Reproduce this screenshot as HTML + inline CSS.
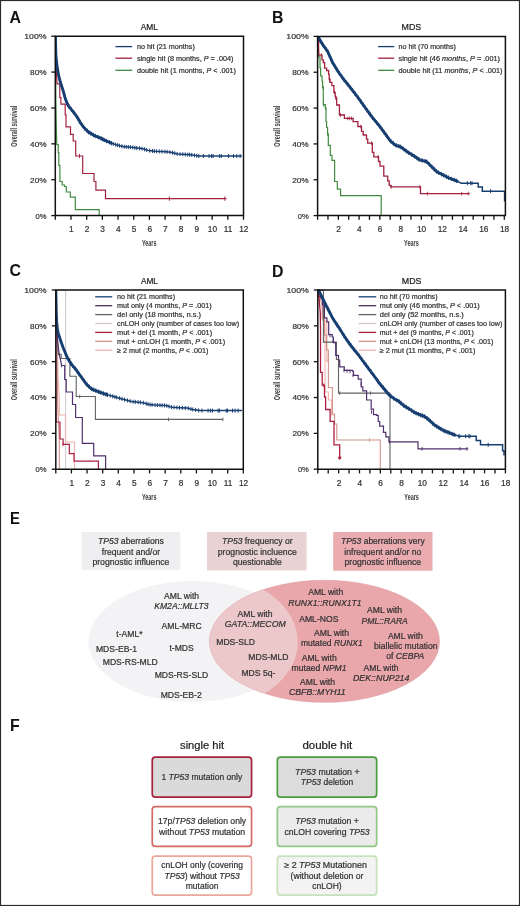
<!DOCTYPE html>
<html><head><meta charset="utf-8"><title>Figure</title>
<style>
html,body{margin:0;padding:0;background:#fff;}
body{width:520px;height:906px;overflow:hidden;}
svg{display:block;font-family:"Liberation Sans", sans-serif;will-change:transform;}
text{paint-order:stroke;stroke-width:0.22px;stroke-linejoin:round;}
</style></head>
<body>
<svg width="520" height="906" viewBox="0 0 520 906">
<rect width="520" height="906" fill="#fff"/>
<text x="9.4" y="23" font-size="15.9" font-weight="bold" fill="#111" >A</text>
<text x="149.4" y="30.4" font-size="8.8" text-anchor="middle" fill="#222" stroke="#222" textLength="17.2" lengthAdjust="spacingAndGlyphs" >AML</text>
<clipPath id="ca"><rect x="55.3" y="30" width="194.7" height="186.5"/></clipPath><g clip-path="url(#ca)">
<path d="M55.6 36.2 L55.8 100 L56.4 130 L56.8 144.6 L58.2 144.6 L58.2 152.7 L58.8 152.7 L58.8 165.4 L59.9 165.4 L59.9 181.5 L62.2 181.5 L62.2 185 L64.5 185 L64.5 186.5 L66.3 186.5 L66.3 192 L70.3 192 L70.3 197.1 L75.3 197.1 L75.3 209.6 L99.2 209.6 L99.2 215.6" fill="none" stroke="#3f8c40" stroke-width="1.2" stroke-linejoin="miter" stroke-linecap="butt" />
<path d="M55.3 36.2 L55.5 60 L56.3 71.5 L57.1 83.8 L59.8 83.8 L59.8 97.7 L60.9 97.7 L60.9 104.2 L65.2 104.2 L65.2 114.8 L66 114.8 L66 126.9 L70.5 126.9 L70.5 134.3 L73.2 134.3 L73.2 141 L75.7 141 L75.7 156 L82.7 156 L82.7 173.5 L94 173.5 L94 181.5 L95.9 181.5 L95.9 190.2 L105.5 190.2 L105.5 198.6 L226.5 198.6" fill="none" stroke="#a1213f" stroke-width="1.2" stroke-linejoin="miter" stroke-linecap="butt" />
<line x1="79.5" y1="153.8" x2="79.5" y2="158.2" stroke="#a1213f" stroke-width="0.9"/>
<line x1="169.4" y1="196.4" x2="169.4" y2="200.8" stroke="#a1213f" stroke-width="0.9"/>
<line x1="224.8" y1="196.4" x2="224.8" y2="200.8" stroke="#a1213f" stroke-width="0.9"/>
<path d="M55.4 36.2 L55.6 45 L55.9 55 L56.4 61 L57.3 67.7 L58.6 75.4 L60.2 81.5 L61.7 86.2 L63.2 90.8 L64.8 96.9 L66.3 101.5 L68.6 106.2 L72.3 110.6 L75.2 114.3 L78 118.5 L80.8 123.5 L84.6 128.3 L88.5 132.1 L94.2 135.5 L100 137.9 L105.8 140.8 L111.5 143.2 L117.3 145.1 L123.1 146.6 L131.5 147.3 L143.1 148.8 L148.8 150.6 L154.6 151.2 L166.2 151.7 L170.8 152.3 L177.7 154 L190.8 154.8 L198.9 156.1 L241.9 156.1" fill="none" stroke="#183f72" stroke-width="1.5" stroke-linejoin="miter" stroke-linecap="butt" />
<path d="M55.4 36.2 L55.6 45 L55.9 55 L56.4 61 L57.3 67.7 L58.6 75.4 L60.2 81.5 L61.7 86.2 L63.2 90.8 L64.8 96.9 L66.3 101.5 L68.6 106.2 L72.3 110.6 L75.2 114.3 L78 118.5 L80.8 123.5 L84.6 128.3 L88.5 132.1 L94.2 135.5 L100 137.9 L105.8 140.8 L111.5 143.2 L112 143.36" fill="none" stroke="#183f72" stroke-width="2.9" stroke-linejoin="miter" stroke-linecap="butt" stroke-linejoin="round"/>
<line x1="57.9" y1="69.05" x2="57.9" y2="73.45" stroke="#183f72" stroke-width="1.0"/>
<line x1="59.6" y1="77.02" x2="59.6" y2="81.42" stroke="#183f72" stroke-width="1.0"/>
<line x1="62.37" y1="86.06" x2="62.37" y2="90.46" stroke="#183f72" stroke-width="1.0"/>
<line x1="65.02" y1="95.37" x2="65.02" y2="99.77" stroke="#183f72" stroke-width="1.0"/>
<line x1="66.9" y1="100.53" x2="66.9" y2="104.93" stroke="#183f72" stroke-width="1.0"/>
<line x1="69.14" y1="104.65" x2="69.14" y2="109.05" stroke="#183f72" stroke-width="1.0"/>
<line x1="71.32" y1="107.23" x2="71.32" y2="111.63" stroke="#183f72" stroke-width="1.0"/>
<line x1="73.8" y1="110.31" x2="73.8" y2="114.71" stroke="#183f72" stroke-width="1.0"/>
<line x1="76.48" y1="114.02" x2="76.48" y2="118.42" stroke="#183f72" stroke-width="1.0"/>
<line x1="78.12" y1="116.51" x2="78.12" y2="120.91" stroke="#183f72" stroke-width="1.0"/>
<line x1="79.66" y1="119.27" x2="79.66" y2="123.67" stroke="#183f72" stroke-width="1.0"/>
<line x1="82.42" y1="123.34" x2="82.42" y2="127.74" stroke="#183f72" stroke-width="1.0"/>
<line x1="84.56" y1="126.06" x2="84.56" y2="130.46" stroke="#183f72" stroke-width="1.0"/>
<line x1="87.21" y1="128.64" x2="87.21" y2="133.04" stroke="#183f72" stroke-width="1.0"/>
<line x1="88.71" y1="130.03" x2="88.71" y2="134.43" stroke="#183f72" stroke-width="1.0"/>
<line x1="90.88" y1="131.32" x2="90.88" y2="135.72" stroke="#183f72" stroke-width="1.0"/>
<line x1="93.46" y1="132.86" x2="93.46" y2="137.26" stroke="#183f72" stroke-width="1.0"/>
<line x1="95.31" y1="133.76" x2="95.31" y2="138.16" stroke="#183f72" stroke-width="1.0"/>
<line x1="98.22" y1="134.96" x2="98.22" y2="139.36" stroke="#183f72" stroke-width="1.0"/>
<line x1="101.08" y1="136.24" x2="101.08" y2="140.64" stroke="#183f72" stroke-width="1.0"/>
<line x1="102.62" y1="137.01" x2="102.62" y2="141.41" stroke="#183f72" stroke-width="1.0"/>
<line x1="104.16" y1="137.78" x2="104.16" y2="142.18" stroke="#183f72" stroke-width="1.0"/>
<line x1="106.47" y1="138.88" x2="106.47" y2="143.28" stroke="#183f72" stroke-width="1.0"/>
<line x1="109.38" y1="140.11" x2="109.38" y2="144.51" stroke="#183f72" stroke-width="1.0"/>
<line x1="111.45" y1="140.98" x2="111.45" y2="145.38" stroke="#183f72" stroke-width="1.0"/>
<line x1="113.28" y1="141.78" x2="113.28" y2="145.78" stroke="#183f72" stroke-width="1.0"/>
<line x1="115.58" y1="142.54" x2="115.58" y2="146.54" stroke="#183f72" stroke-width="1.0"/>
<line x1="117.42" y1="143.13" x2="117.42" y2="147.13" stroke="#183f72" stroke-width="1.0"/>
<line x1="119.48" y1="143.66" x2="119.48" y2="147.66" stroke="#183f72" stroke-width="1.0"/>
<line x1="121.81" y1="144.27" x2="121.81" y2="148.27" stroke="#183f72" stroke-width="1.0"/>
<line x1="124.2" y1="144.69" x2="124.2" y2="148.69" stroke="#183f72" stroke-width="1.0"/>
<line x1="126.28" y1="144.87" x2="126.28" y2="148.87" stroke="#183f72" stroke-width="1.0"/>
<line x1="128.36" y1="145.04" x2="128.36" y2="149.04" stroke="#183f72" stroke-width="1.0"/>
<line x1="130.42" y1="145.21" x2="130.42" y2="149.21" stroke="#183f72" stroke-width="1.0"/>
<line x1="132.78" y1="145.46" x2="132.78" y2="149.46" stroke="#183f72" stroke-width="1.0"/>
<line x1="134.92" y1="145.74" x2="134.92" y2="149.74" stroke="#183f72" stroke-width="1.0"/>
<line x1="136.75" y1="145.98" x2="136.75" y2="149.98" stroke="#183f72" stroke-width="1.0"/>
<line x1="139.55" y1="146.34" x2="139.55" y2="150.34" stroke="#183f72" stroke-width="1.0"/>
<line x1="142.02" y1="146.66" x2="142.02" y2="150.66" stroke="#183f72" stroke-width="1.0"/>
<line x1="144.59" y1="147.27" x2="144.59" y2="151.27" stroke="#183f72" stroke-width="1.0"/>
<line x1="146.62" y1="147.91" x2="146.62" y2="151.91" stroke="#183f72" stroke-width="1.0"/>
<line x1="149.61" y1="148.68" x2="149.61" y2="152.68" stroke="#183f72" stroke-width="1.0"/>
<line x1="152.44" y1="148.98" x2="152.44" y2="152.98" stroke="#183f72" stroke-width="1.0"/>
<line x1="154.38" y1="149.18" x2="154.38" y2="153.18" stroke="#183f72" stroke-width="1.0"/>
<line x1="156.58" y1="149.29" x2="156.58" y2="153.29" stroke="#183f72" stroke-width="1.0"/>
<line x1="159.25" y1="149.4" x2="159.25" y2="153.4" stroke="#183f72" stroke-width="1.0"/>
<line x1="161.9" y1="149.51" x2="161.9" y2="153.51" stroke="#183f72" stroke-width="1.0"/>
<line x1="164.83" y1="149.64" x2="164.83" y2="153.64" stroke="#183f72" stroke-width="1.0"/>
<line x1="167.13" y1="149.82" x2="167.13" y2="153.82" stroke="#183f72" stroke-width="1.0"/>
<line x1="169.93" y1="150.19" x2="169.93" y2="154.19" stroke="#183f72" stroke-width="1.0"/>
<line x1="172.53" y1="150.73" x2="172.53" y2="154.73" stroke="#183f72" stroke-width="1.0"/>
<line x1="174.7" y1="151.26" x2="174.7" y2="155.26" stroke="#183f72" stroke-width="1.0"/>
<line x1="177.2" y1="151.88" x2="177.2" y2="155.88" stroke="#183f72" stroke-width="1.0"/>
<line x1="180.06" y1="152.14" x2="180.06" y2="156.14" stroke="#183f72" stroke-width="1.0"/>
<line x1="182.88" y1="152.32" x2="182.88" y2="156.32" stroke="#183f72" stroke-width="1.0"/>
<line x1="185.28" y1="152.46" x2="185.28" y2="156.46" stroke="#183f72" stroke-width="1.0"/>
<line x1="187.79" y1="152.62" x2="187.79" y2="156.62" stroke="#183f72" stroke-width="1.0"/>
<line x1="189.63" y1="152.73" x2="189.63" y2="156.73" stroke="#183f72" stroke-width="1.0"/>
<line x1="191.72" y1="152.95" x2="191.72" y2="156.95" stroke="#183f72" stroke-width="1.0"/>
<line x1="194.48" y1="153.39" x2="194.48" y2="157.39" stroke="#183f72" stroke-width="1.0"/>
<line x1="196.78" y1="153.76" x2="196.78" y2="157.76" stroke="#183f72" stroke-width="1.0"/>
<line x1="198.78" y1="154.08" x2="198.78" y2="158.08" stroke="#183f72" stroke-width="1.0"/>
<line x1="203.3" y1="154.1" x2="203.3" y2="158.1" stroke="#183f72" stroke-width="1.0"/>
<line x1="209" y1="154.1" x2="209" y2="158.1" stroke="#183f72" stroke-width="1.0"/>
<line x1="211.5" y1="154.1" x2="211.5" y2="158.1" stroke="#183f72" stroke-width="1.0"/>
<line x1="213.1" y1="154.1" x2="213.1" y2="158.1" stroke="#183f72" stroke-width="1.0"/>
<line x1="219.6" y1="154.1" x2="219.6" y2="158.1" stroke="#183f72" stroke-width="1.0"/>
<line x1="221.3" y1="154.1" x2="221.3" y2="158.1" stroke="#183f72" stroke-width="1.0"/>
<line x1="228.6" y1="154.1" x2="228.6" y2="158.1" stroke="#183f72" stroke-width="1.0"/>
<line x1="233.5" y1="154.1" x2="233.5" y2="158.1" stroke="#183f72" stroke-width="1.0"/>
<line x1="236.8" y1="154.1" x2="236.8" y2="158.1" stroke="#183f72" stroke-width="1.0"/>
<line x1="240.1" y1="154.1" x2="240.1" y2="158.1" stroke="#183f72" stroke-width="1.0"/>
</g>
<path d="M55.3 215.6 L55.3 36.2 L243.5 36.2 L243.5 215.6 Z" fill="none" stroke="#111" stroke-width="1.5"/>
<line x1="51.3" y1="36.2" x2="55.3" y2="36.2" stroke="#111" stroke-width="1.3"/>
<text x="46.6" y="39.1" font-size="8.1" text-anchor="end" fill="#333" stroke="#333" textLength="22.4" lengthAdjust="spacingAndGlyphs" >100%</text>
<line x1="51.3" y1="72.08" x2="55.3" y2="72.08" stroke="#111" stroke-width="1.3"/>
<text x="46.6" y="74.98" font-size="8.1" text-anchor="end" fill="#333" stroke="#333" textLength="16.5" lengthAdjust="spacingAndGlyphs" >80%</text>
<line x1="51.3" y1="107.96" x2="55.3" y2="107.96" stroke="#111" stroke-width="1.3"/>
<text x="46.6" y="110.86" font-size="8.1" text-anchor="end" fill="#333" stroke="#333" textLength="16.5" lengthAdjust="spacingAndGlyphs" >60%</text>
<line x1="51.3" y1="143.84" x2="55.3" y2="143.84" stroke="#111" stroke-width="1.3"/>
<text x="46.6" y="146.74" font-size="8.1" text-anchor="end" fill="#333" stroke="#333" textLength="16.5" lengthAdjust="spacingAndGlyphs" >40%</text>
<line x1="51.3" y1="179.72" x2="55.3" y2="179.72" stroke="#111" stroke-width="1.3"/>
<text x="46.6" y="182.62" font-size="8.1" text-anchor="end" fill="#333" stroke="#333" textLength="16.5" lengthAdjust="spacingAndGlyphs" >20%</text>
<line x1="51.3" y1="215.6" x2="55.3" y2="215.6" stroke="#111" stroke-width="1.3"/>
<text x="46.6" y="218.5" font-size="8.1" text-anchor="end" fill="#333" stroke="#333" textLength="11" lengthAdjust="spacingAndGlyphs" >0%</text>
<line x1="55.3" y1="215.6" x2="55.3" y2="219.8" stroke="#111" stroke-width="1.3"/>
<line x1="70.98" y1="215.6" x2="70.98" y2="219.8" stroke="#111" stroke-width="1.3"/>
<text x="71.28" y="231.8" font-size="8.3" text-anchor="middle" fill="#333" stroke="#333" >1</text>
<line x1="86.67" y1="215.6" x2="86.67" y2="219.8" stroke="#111" stroke-width="1.3"/>
<text x="86.97" y="231.8" font-size="8.3" text-anchor="middle" fill="#333" stroke="#333" >2</text>
<line x1="102.35" y1="215.6" x2="102.35" y2="219.8" stroke="#111" stroke-width="1.3"/>
<text x="102.65" y="231.8" font-size="8.3" text-anchor="middle" fill="#333" stroke="#333" >3</text>
<line x1="118.03" y1="215.6" x2="118.03" y2="219.8" stroke="#111" stroke-width="1.3"/>
<text x="118.33" y="231.8" font-size="8.3" text-anchor="middle" fill="#333" stroke="#333" >4</text>
<line x1="133.72" y1="215.6" x2="133.72" y2="219.8" stroke="#111" stroke-width="1.3"/>
<text x="134.02" y="231.8" font-size="8.3" text-anchor="middle" fill="#333" stroke="#333" >5</text>
<line x1="149.4" y1="215.6" x2="149.4" y2="219.8" stroke="#111" stroke-width="1.3"/>
<text x="149.7" y="231.8" font-size="8.3" text-anchor="middle" fill="#333" stroke="#333" >6</text>
<line x1="165.08" y1="215.6" x2="165.08" y2="219.8" stroke="#111" stroke-width="1.3"/>
<text x="165.38" y="231.8" font-size="8.3" text-anchor="middle" fill="#333" stroke="#333" >7</text>
<line x1="180.77" y1="215.6" x2="180.77" y2="219.8" stroke="#111" stroke-width="1.3"/>
<text x="181.07" y="231.8" font-size="8.3" text-anchor="middle" fill="#333" stroke="#333" >8</text>
<line x1="196.45" y1="215.6" x2="196.45" y2="219.8" stroke="#111" stroke-width="1.3"/>
<text x="196.75" y="231.8" font-size="8.3" text-anchor="middle" fill="#333" stroke="#333" >9</text>
<line x1="212.13" y1="215.6" x2="212.13" y2="219.8" stroke="#111" stroke-width="1.3"/>
<text x="212.43" y="231.8" font-size="8.3" text-anchor="middle" fill="#333" stroke="#333" >10</text>
<line x1="227.82" y1="215.6" x2="227.82" y2="219.8" stroke="#111" stroke-width="1.3"/>
<text x="228.12" y="231.8" font-size="8.3" text-anchor="middle" fill="#333" stroke="#333" >11</text>
<line x1="243.5" y1="215.6" x2="243.5" y2="219.8" stroke="#111" stroke-width="1.3"/>
<text x="243.8" y="231.8" font-size="8.3" text-anchor="middle" fill="#333" stroke="#333" >12</text>
<text x="0" y="0" font-size="8.6" font-weight="bold" fill="#3a3a3a" text-anchor="middle" textLength="41" lengthAdjust="spacingAndGlyphs" transform="translate(17.4 126.2) rotate(-90)">Overall survival</text>
<text x="149.2" y="246.2" font-size="8.6" text-anchor="middle" font-weight="bold" fill="#3a3a3a" textLength="14.6" lengthAdjust="spacingAndGlyphs" >Years</text>
<line x1="115.4" y1="46.6" x2="132.2" y2="46.6" stroke="#183f72" stroke-width="1.3"/>
<text x="136.9" y="49" font-size="7.2" fill="#333" stroke="#333" textLength="57.9" lengthAdjust="spacingAndGlyphs" >no hit (21 months)</text>
<line x1="115.4" y1="58.2" x2="132.2" y2="58.2" stroke="#a1213f" stroke-width="1.3"/>
<text x="136.9" y="60.6" font-size="7.2" fill="#333" stroke="#333" textLength="96.5" lengthAdjust="spacingAndGlyphs" >single hit (8 months, <tspan font-style="italic">P</tspan> = .004)</text>
<line x1="115.4" y1="70.3" x2="132.2" y2="70.3" stroke="#3f8c40" stroke-width="1.3"/>
<text x="136.9" y="72.7" font-size="7.2" fill="#333" stroke="#333" textLength="99.1" lengthAdjust="spacingAndGlyphs" >double hit (1 months, <tspan font-style="italic">P</tspan> &lt; .001)</text>
<text x="271.9" y="23.1" font-size="15.9" font-weight="bold" fill="#111" >B</text>
<text x="411.4" y="30.4" font-size="8.8" text-anchor="middle" fill="#222" stroke="#222" textLength="19.7" lengthAdjust="spacingAndGlyphs" >MDS</text>
<clipPath id="cb"><rect x="317.6" y="30" width="194.39999999999998" height="186.5"/></clipPath><g clip-path="url(#cb)">
<path d="M317.8 36.5 L318.3 45 L318.6 55.9 L318.8 57.2 L320 57.2 L320 67.8 L320.6 67.8 L320.6 75.8 L322 75.8 L322 81 L322.6 81 L322.6 87.7 L323.3 87.7 L323.3 104.6 L325.3 104.6 L325.3 108.2 L326 108.2 L326 121.5 L326.6 121.5 L326.6 127.5 L327.6 127.5 L327.6 134.8 L328.3 134.8 L328.3 145.3 L330.3 145.3 L330.3 155.3 L332 155.3 L332 160.3 L334.6 160.3 L334.6 181.5 L337.3 181.5 L337.3 189.1 L340.6 189.1 L340.6 195.7 L381.2 195.7 L381.2 215.6" fill="none" stroke="#3f8c40" stroke-width="1.2" stroke-linejoin="miter" stroke-linecap="butt" />
<path d="M317.8 36.5 L318.6 40 L318.6 48 L318.8 55.2 L322 55.2 L322 59.9 L323.3 59.9 L323.3 62.5 L324.6 62.5 L324.6 68.2 L326.6 68.2 L326.6 70.5 L328.6 70.5 L328.6 74.4 L329.2 74.4 L329.2 79.7 L329.9 79.7 L329.9 82.4 L331.9 82.4 L331.9 85.7 L333.9 85.7 L333.9 92.3 L335.2 92.3 L335.2 96.3 L335.9 96.3 L335.9 98.2 L336.7 98.2 L336.7 105 L339.4 105 L339.4 115 L344.4 115 L344.4 118.4 L353.1 118.4 L353.1 121.7 L357.9 121.7 L357.9 126.5 L361.5 126.5 L361.5 131.3 L363.2 131.3 L363.2 135 L366.5 135 L366.5 139.2 L367.7 139.2 L367.7 143.1 L372.3 143.1 L372.3 152.3 L373.8 152.3 L373.8 156.9 L378.5 156.9 L378.5 161.5 L380 161.5 L380 166.2 L383.8 166.2 L383.8 176.2 L387.7 176.2 L387.7 180.8 L389.2 180.8 L389.2 185.4 L390.8 185.4 L390.8 186.9 L420.5 186.9 L420.5 193.6 L469.8 193.6" fill="none" stroke="#a1213f" stroke-width="1.3" stroke-linejoin="miter" stroke-linecap="butt" />
<line x1="321.3" y1="53.4" x2="321.3" y2="57" stroke="#a1213f" stroke-width="0.9"/>
<line x1="329.9" y1="77.9" x2="329.9" y2="81.5" stroke="#a1213f" stroke-width="0.9"/>
<line x1="334.5" y1="90.5" x2="334.5" y2="94.1" stroke="#a1213f" stroke-width="0.9"/>
<line x1="335.9" y1="96.4" x2="335.9" y2="100" stroke="#a1213f" stroke-width="0.9"/>
<line x1="340.5" y1="113.2" x2="340.5" y2="116.8" stroke="#a1213f" stroke-width="0.9"/>
<line x1="347.8" y1="116.6" x2="347.8" y2="120.2" stroke="#a1213f" stroke-width="0.9"/>
<line x1="349.7" y1="116.6" x2="349.7" y2="120.2" stroke="#a1213f" stroke-width="0.9"/>
<line x1="351.6" y1="116.6" x2="351.6" y2="120.2" stroke="#a1213f" stroke-width="0.9"/>
<line x1="360.8" y1="124.7" x2="360.8" y2="128.3" stroke="#a1213f" stroke-width="0.9"/>
<line x1="371.5" y1="141.3" x2="371.5" y2="144.9" stroke="#a1213f" stroke-width="0.9"/>
<line x1="378.1" y1="155.1" x2="378.1" y2="158.7" stroke="#a1213f" stroke-width="0.9"/>
<line x1="391.2" y1="185.1" x2="391.2" y2="188.7" stroke="#a1213f" stroke-width="0.9"/>
<line x1="419.9" y1="185.1" x2="419.9" y2="188.7" stroke="#a1213f" stroke-width="0.9"/>
<line x1="427.4" y1="191.8" x2="427.4" y2="195.4" stroke="#a1213f" stroke-width="0.9"/>
<line x1="461.7" y1="191.8" x2="461.7" y2="195.4" stroke="#a1213f" stroke-width="0.9"/>
<line x1="468.2" y1="191.8" x2="468.2" y2="195.4" stroke="#a1213f" stroke-width="0.9"/>
<line x1="323.3" y1="85.9" x2="323.3" y2="89.5" stroke="#3f8c40" stroke-width="0.9"/>
<line x1="323.6" y1="102.8" x2="323.6" y2="106.4" stroke="#3f8c40" stroke-width="0.9"/>
<line x1="325.6" y1="106.4" x2="325.6" y2="110" stroke="#3f8c40" stroke-width="0.9"/>
<line x1="328.3" y1="133" x2="328.3" y2="136.6" stroke="#3f8c40" stroke-width="0.9"/>
<path d="M317.8 36.5 L322.7 44.6 L327.5 51.2 L330.2 57.2 L332.7 62.8 L338.1 71.5 L343.5 79.2 L350.4 87.7 L358.1 97.7 L365.8 108.5 L371.9 116.9 L379.6 126.2 L385.8 134.6 L390.2 140.8 L395.4 145.1 L400.6 146.8 L407.5 152 L414.4 156.3 L419.6 159.8 L426.5 161.5 L431.7 166.7 L436.9 171.9 L442.1 174.5 L449 178 L456 180.6 L461.2 183.2 L478.2 183.2 L478.2 187 L482.3 187 L482.3 191.2 L504.6 191.2 L504.6 201.5" fill="none" stroke="#183f72" stroke-width="1.5" stroke-linejoin="miter" stroke-linecap="butt" />
<path d="M317.8 36.5 L322.7 44.6 L327.5 51.2 L330.2 57.2 L332.7 62.8 L338.1 71.5 L343.5 79.2 L350.4 87.7 L358.1 97.7 L365.8 108.5 L371.9 116.9 L379.6 126.2 L385.8 134.6 L390.2 140.8 L395.4 145.1 L400.6 146.8 L407.5 152 L414.4 156.3 L419.6 159.8 L426.5 161.5 L431.7 166.7 L436.9 171.9 L442.1 174.5 L449 178 L456 180.6 L458 181.6" fill="none" stroke="#183f72" stroke-width="2.9" stroke-linejoin="miter" stroke-linecap="butt" stroke-linejoin="round"/>
<line x1="320.3" y1="38.43" x2="320.3" y2="42.83" stroke="#183f72" stroke-width="1.0"/>
<line x1="323.23" y1="43.13" x2="323.23" y2="47.53" stroke="#183f72" stroke-width="1.0"/>
<line x1="326.16" y1="47.15" x2="326.16" y2="51.55" stroke="#183f72" stroke-width="1.0"/>
<line x1="327.74" y1="49.53" x2="327.74" y2="53.93" stroke="#183f72" stroke-width="1.0"/>
<line x1="329.37" y1="53.15" x2="329.37" y2="57.55" stroke="#183f72" stroke-width="1.0"/>
<line x1="332.12" y1="59.3" x2="332.12" y2="63.7" stroke="#183f72" stroke-width="1.0"/>
<line x1="334.73" y1="63.86" x2="334.73" y2="68.26" stroke="#183f72" stroke-width="1.0"/>
<line x1="337.23" y1="67.9" x2="337.23" y2="72.3" stroke="#183f72" stroke-width="1.0"/>
<line x1="339.19" y1="70.86" x2="339.19" y2="75.26" stroke="#183f72" stroke-width="1.0"/>
<line x1="341.6" y1="74.29" x2="341.6" y2="78.69" stroke="#183f72" stroke-width="1.0"/>
<line x1="344.01" y1="77.63" x2="344.01" y2="82.03" stroke="#183f72" stroke-width="1.0"/>
<line x1="346.38" y1="80.55" x2="346.38" y2="84.95" stroke="#183f72" stroke-width="1.0"/>
<line x1="348.12" y1="82.69" x2="348.12" y2="87.09" stroke="#183f72" stroke-width="1.0"/>
<line x1="350.27" y1="85.34" x2="350.27" y2="89.74" stroke="#183f72" stroke-width="1.0"/>
<line x1="352.36" y1="88.04" x2="352.36" y2="92.44" stroke="#183f72" stroke-width="1.0"/>
<line x1="354.94" y1="91.4" x2="354.94" y2="95.8" stroke="#183f72" stroke-width="1.0"/>
<line x1="357.93" y1="95.28" x2="357.93" y2="99.68" stroke="#183f72" stroke-width="1.0"/>
<line x1="360.86" y1="99.37" x2="360.86" y2="103.77" stroke="#183f72" stroke-width="1.0"/>
<line x1="363.17" y1="102.62" x2="363.17" y2="107.02" stroke="#183f72" stroke-width="1.0"/>
<line x1="365.34" y1="105.66" x2="365.34" y2="110.06" stroke="#183f72" stroke-width="1.0"/>
<line x1="367.24" y1="108.29" x2="367.24" y2="112.69" stroke="#183f72" stroke-width="1.0"/>
<line x1="368.8" y1="110.43" x2="368.8" y2="114.83" stroke="#183f72" stroke-width="1.0"/>
<line x1="370.34" y1="112.55" x2="370.34" y2="116.95" stroke="#183f72" stroke-width="1.0"/>
<line x1="372.54" y1="115.47" x2="372.54" y2="119.87" stroke="#183f72" stroke-width="1.0"/>
<line x1="374.51" y1="117.86" x2="374.51" y2="122.26" stroke="#183f72" stroke-width="1.0"/>
<line x1="376.58" y1="120.36" x2="376.58" y2="124.76" stroke="#183f72" stroke-width="1.0"/>
<line x1="379.42" y1="123.78" x2="379.42" y2="128.18" stroke="#183f72" stroke-width="1.0"/>
<line x1="381.71" y1="126.86" x2="381.71" y2="131.26" stroke="#183f72" stroke-width="1.0"/>
<line x1="384.05" y1="130.03" x2="384.05" y2="134.43" stroke="#183f72" stroke-width="1.0"/>
<line x1="385.9" y1="132.55" x2="385.9" y2="136.95" stroke="#183f72" stroke-width="1.0"/>
<line x1="387.44" y1="134.71" x2="387.44" y2="139.11" stroke="#183f72" stroke-width="1.0"/>
<line x1="389.43" y1="137.51" x2="389.43" y2="141.91" stroke="#183f72" stroke-width="1.0"/>
<line x1="391.13" y1="139.37" x2="391.13" y2="143.77" stroke="#183f72" stroke-width="1.0"/>
<line x1="393.4" y1="141.25" x2="393.4" y2="145.65" stroke="#183f72" stroke-width="1.0"/>
<line x1="396.4" y1="143.23" x2="396.4" y2="147.63" stroke="#183f72" stroke-width="1.0"/>
<line x1="398.91" y1="144.05" x2="398.91" y2="148.45" stroke="#183f72" stroke-width="1.0"/>
<line x1="400.68" y1="144.66" x2="400.68" y2="149.06" stroke="#183f72" stroke-width="1.0"/>
<line x1="403.52" y1="146.8" x2="403.52" y2="151.2" stroke="#183f72" stroke-width="1.0"/>
<line x1="406.22" y1="148.83" x2="406.22" y2="153.23" stroke="#183f72" stroke-width="1.0"/>
<line x1="408.82" y1="150.62" x2="408.82" y2="155.02" stroke="#183f72" stroke-width="1.0"/>
<line x1="411.68" y1="152.4" x2="411.68" y2="156.8" stroke="#183f72" stroke-width="1.0"/>
<line x1="414.32" y1="154.05" x2="414.32" y2="158.45" stroke="#183f72" stroke-width="1.0"/>
<line x1="417.01" y1="155.85" x2="417.01" y2="160.25" stroke="#183f72" stroke-width="1.0"/>
<line x1="419.04" y1="157.22" x2="419.04" y2="161.62" stroke="#183f72" stroke-width="1.0"/>
<line x1="422.01" y1="158.19" x2="422.01" y2="162.59" stroke="#183f72" stroke-width="1.0"/>
<line x1="424.95" y1="158.92" x2="424.95" y2="163.32" stroke="#183f72" stroke-width="1.0"/>
<line x1="426.69" y1="159.49" x2="426.69" y2="163.89" stroke="#183f72" stroke-width="1.0"/>
<line x1="429.32" y1="162.12" x2="429.32" y2="166.52" stroke="#183f72" stroke-width="1.0"/>
<line x1="431.9" y1="164.7" x2="431.9" y2="169.1" stroke="#183f72" stroke-width="1.0"/>
<line x1="434.09" y1="166.89" x2="434.09" y2="171.29" stroke="#183f72" stroke-width="1.0"/>
<line x1="436.39" y1="169.19" x2="436.39" y2="173.59" stroke="#183f72" stroke-width="1.0"/>
<line x1="438.62" y1="170.56" x2="438.62" y2="174.96" stroke="#183f72" stroke-width="1.0"/>
<line x1="441.51" y1="172" x2="441.51" y2="176.4" stroke="#183f72" stroke-width="1.0"/>
<line x1="443.76" y1="173.14" x2="443.76" y2="177.54" stroke="#183f72" stroke-width="1.0"/>
<line x1="446.51" y1="174.54" x2="446.51" y2="178.94" stroke="#183f72" stroke-width="1.0"/>
<line x1="448.54" y1="175.57" x2="448.54" y2="179.97" stroke="#183f72" stroke-width="1.0"/>
<line x1="451.36" y1="176.68" x2="451.36" y2="181.08" stroke="#183f72" stroke-width="1.0"/>
<line x1="454.21" y1="177.74" x2="454.21" y2="182.14" stroke="#183f72" stroke-width="1.0"/>
<line x1="456.4" y1="178.6" x2="456.4" y2="183" stroke="#183f72" stroke-width="1.0"/>
<line x1="467.4" y1="181.2" x2="467.4" y2="185.2" stroke="#183f72" stroke-width="1.0"/>
<line x1="470.7" y1="181.2" x2="470.7" y2="185.2" stroke="#183f72" stroke-width="1.0"/>
<line x1="472" y1="181.2" x2="472" y2="185.2" stroke="#183f72" stroke-width="1.0"/>
<line x1="490.6" y1="189.2" x2="490.6" y2="193.2" stroke="#183f72" stroke-width="1.0"/>
</g>
<path d="M317.6 215.6 L317.6 36.4 L505.4 36.4 L505.4 215.6 Z" fill="none" stroke="#111" stroke-width="1.5"/>
<line x1="313.6" y1="36.4" x2="317.6" y2="36.4" stroke="#111" stroke-width="1.3"/>
<text x="308.7" y="39.3" font-size="8.1" text-anchor="end" fill="#333" stroke="#333" textLength="22.4" lengthAdjust="spacingAndGlyphs" >100%</text>
<line x1="313.6" y1="72.24" x2="317.6" y2="72.24" stroke="#111" stroke-width="1.3"/>
<text x="308.7" y="75.14" font-size="8.1" text-anchor="end" fill="#333" stroke="#333" textLength="16.5" lengthAdjust="spacingAndGlyphs" >80%</text>
<line x1="313.6" y1="108.08" x2="317.6" y2="108.08" stroke="#111" stroke-width="1.3"/>
<text x="308.7" y="110.98" font-size="8.1" text-anchor="end" fill="#333" stroke="#333" textLength="16.5" lengthAdjust="spacingAndGlyphs" >60%</text>
<line x1="313.6" y1="143.92" x2="317.6" y2="143.92" stroke="#111" stroke-width="1.3"/>
<text x="308.7" y="146.82" font-size="8.1" text-anchor="end" fill="#333" stroke="#333" textLength="16.5" lengthAdjust="spacingAndGlyphs" >40%</text>
<line x1="313.6" y1="179.76" x2="317.6" y2="179.76" stroke="#111" stroke-width="1.3"/>
<text x="308.7" y="182.66" font-size="8.1" text-anchor="end" fill="#333" stroke="#333" textLength="16.5" lengthAdjust="spacingAndGlyphs" >20%</text>
<line x1="313.6" y1="215.6" x2="317.6" y2="215.6" stroke="#111" stroke-width="1.3"/>
<text x="308.7" y="218.5" font-size="8.1" text-anchor="end" fill="#333" stroke="#333" textLength="11" lengthAdjust="spacingAndGlyphs" >0%</text>
<line x1="317.6" y1="215.6" x2="317.6" y2="219.8" stroke="#111" stroke-width="1.3"/>
<line x1="327.97" y1="215.6" x2="327.97" y2="219.8" stroke="#111" stroke-width="1.3"/>
<line x1="338.34" y1="215.6" x2="338.34" y2="219.8" stroke="#111" stroke-width="1.3"/>
<text x="338.64" y="231.8" font-size="8.3" text-anchor="middle" fill="#333" stroke="#333" >2</text>
<line x1="348.72" y1="215.6" x2="348.72" y2="219.8" stroke="#111" stroke-width="1.3"/>
<line x1="359.09" y1="215.6" x2="359.09" y2="219.8" stroke="#111" stroke-width="1.3"/>
<text x="359.39" y="231.8" font-size="8.3" text-anchor="middle" fill="#333" stroke="#333" >4</text>
<line x1="369.46" y1="215.6" x2="369.46" y2="219.8" stroke="#111" stroke-width="1.3"/>
<line x1="379.83" y1="215.6" x2="379.83" y2="219.8" stroke="#111" stroke-width="1.3"/>
<text x="380.13" y="231.8" font-size="8.3" text-anchor="middle" fill="#333" stroke="#333" >6</text>
<line x1="390.21" y1="215.6" x2="390.21" y2="219.8" stroke="#111" stroke-width="1.3"/>
<line x1="400.58" y1="215.6" x2="400.58" y2="219.8" stroke="#111" stroke-width="1.3"/>
<text x="400.88" y="231.8" font-size="8.3" text-anchor="middle" fill="#333" stroke="#333" >8</text>
<line x1="410.95" y1="215.6" x2="410.95" y2="219.8" stroke="#111" stroke-width="1.3"/>
<line x1="421.32" y1="215.6" x2="421.32" y2="219.8" stroke="#111" stroke-width="1.3"/>
<text x="421.62" y="231.8" font-size="8.3" text-anchor="middle" fill="#333" stroke="#333" >10</text>
<line x1="431.69" y1="215.6" x2="431.69" y2="219.8" stroke="#111" stroke-width="1.3"/>
<line x1="442.07" y1="215.6" x2="442.07" y2="219.8" stroke="#111" stroke-width="1.3"/>
<text x="442.37" y="231.8" font-size="8.3" text-anchor="middle" fill="#333" stroke="#333" >12</text>
<line x1="452.44" y1="215.6" x2="452.44" y2="219.8" stroke="#111" stroke-width="1.3"/>
<line x1="462.81" y1="215.6" x2="462.81" y2="219.8" stroke="#111" stroke-width="1.3"/>
<text x="463.11" y="231.8" font-size="8.3" text-anchor="middle" fill="#333" stroke="#333" >14</text>
<line x1="473.18" y1="215.6" x2="473.18" y2="219.8" stroke="#111" stroke-width="1.3"/>
<line x1="483.56" y1="215.6" x2="483.56" y2="219.8" stroke="#111" stroke-width="1.3"/>
<text x="483.86" y="231.8" font-size="8.3" text-anchor="middle" fill="#333" stroke="#333" >16</text>
<line x1="493.93" y1="215.6" x2="493.93" y2="219.8" stroke="#111" stroke-width="1.3"/>
<line x1="504.3" y1="215.6" x2="504.3" y2="219.8" stroke="#111" stroke-width="1.3"/>
<text x="504.6" y="231.8" font-size="8.3" text-anchor="middle" fill="#333" stroke="#333" >18</text>
<text x="0" y="0" font-size="8.6" font-weight="bold" fill="#3a3a3a" text-anchor="middle" textLength="41" lengthAdjust="spacingAndGlyphs" transform="translate(279.5 126.2) rotate(-90)">Overall survival</text>
<text x="411.4" y="246.2" font-size="8.6" text-anchor="middle" font-weight="bold" fill="#3a3a3a" textLength="14.6" lengthAdjust="spacingAndGlyphs" >Years</text>
<line x1="378.1" y1="46.6" x2="394.2" y2="46.6" stroke="#183f72" stroke-width="1.3"/>
<text x="398.5" y="49" font-size="7.2" fill="#333" stroke="#333" textLength="57.4" lengthAdjust="spacingAndGlyphs" >no hit (70 months)</text>
<line x1="378.1" y1="58.2" x2="394.2" y2="58.2" stroke="#a1213f" stroke-width="1.3"/>
<text x="398.5" y="60.6" font-size="7.2" fill="#333" stroke="#333" textLength="101.5" lengthAdjust="spacingAndGlyphs" >single hit (46 <tspan font-style="italic">months</tspan>, <tspan font-style="italic">P</tspan> = .001)</text>
<line x1="378.1" y1="70.3" x2="394.2" y2="70.3" stroke="#3f8c40" stroke-width="1.3"/>
<text x="398.5" y="72.7" font-size="7.2" fill="#333" stroke="#333" textLength="104" lengthAdjust="spacingAndGlyphs" >double hit (11 <tspan font-style="italic">months</tspan>, <tspan font-style="italic">P</tspan> &lt; .001)</text>
<text x="9.6" y="276.3" font-size="15.9" font-weight="bold" fill="#111" >C</text>
<text x="149.4" y="283.5" font-size="8.8" text-anchor="middle" fill="#222" stroke="#222" textLength="17" lengthAdjust="spacingAndGlyphs" >AML</text>
<clipPath id="cc"><rect x="55.8" y="284" width="194.2" height="186"/></clipPath><g clip-path="url(#cc)">
<path d="M55.8 290 L65.6 290 L65.6 469.2" fill="none" stroke="#d3c9ce" stroke-width="1.1" stroke-linejoin="miter" stroke-linecap="butt" />
<path d="M55.8 290 L57 339 L58.2 380 L59.3 398 L59.3 415 L65.5 415 L65.5 442 L74.5 442 L74.5 469.2" fill="none" stroke="#efb3a9" stroke-width="1.1" stroke-linejoin="miter" stroke-linecap="butt" />
<path d="M55.8 290 L56.5 320 L57 340 L57.5 400 L58.5 423 L59.3 440 L59.3 469.2" fill="none" stroke="#d0928a" stroke-width="1.1" stroke-linejoin="miter" stroke-linecap="butt" />
<path d="M55.8 290 L56.5 320 L57.5 340 L58.3 354.4 L61.2 354.4 L61.2 358.5 L69.9 358.5 L69.9 376.3 L76.2 376.3 L76.2 396.5 L95.4 396.5 L95.4 419.4 L222.9 419.4" fill="none" stroke="#5f6363" stroke-width="1.1" stroke-linejoin="miter" stroke-linecap="butt" />
<line x1="79.7" y1="394.7" x2="79.7" y2="398.3" stroke="#5f6363" stroke-width="0.9"/>
<line x1="168.5" y1="417.6" x2="168.5" y2="421.2" stroke="#5f6363" stroke-width="0.9"/>
<line x1="222.9" y1="417.6" x2="222.9" y2="421.2" stroke="#5f6363" stroke-width="0.9"/>
<path d="M55.8 290 L56.3 320 L57.5 340 L59.3 354.7 L60.5 360 L61.6 365.5 L64.7 365.5 L64.7 379.5 L66.2 379.5 L66.2 392 L72.5 392 L72.5 404.5 L75.6 404.5 L75.6 417.5 L82.3 417.5 L82.3 443.3 L93.7 443.3 L93.7 455.9 L105.6 455.9 L105.6 469.2" fill="none" stroke="#4f2f6e" stroke-width="1.2" stroke-linejoin="miter" stroke-linecap="butt" />
<line x1="61.6" y1="363.7" x2="61.6" y2="367.3" stroke="#4f2f6e" stroke-width="0.9"/>
<path d="M55.8 290 L56 400 L56.2 422 L60 422 L60 439 L63.1 439 L63.1 444.4 L69.3 444.4 L69.3 453.6 L74 453.6 L74 461.2 L98.4 461.2 L98.4 469.2" fill="none" stroke="#ab1f40" stroke-width="1.2" stroke-linejoin="miter" stroke-linecap="butt" />
<line x1="63.1" y1="442.6" x2="63.1" y2="446.2" stroke="#ab1f40" stroke-width="0.9"/>
<path d="M55.8 290 L56 300 L56.2 310 L56.6 322 L57.4 329.2 L58.6 334.6 L60.2 339.2 L61.7 343.8 L63.2 347.7 L64.8 351.5 L66.3 355.4 L68.6 360 L71.7 364.6 L75.5 369 L78.8 373.6 L82.7 379 L86.5 384.2 L91.3 388.8 L96.2 390.8 L101 392.7 L106.7 394.6 L113.5 396.5 L121.2 398.7 L131.5 401.5 L143.1 402.7 L148.8 404.4 L154.6 405 L166.2 405.6 L171.9 407.3 L180 407.7 L187.5 408.1 L192.5 409.4 L200 410.6 L242 410.6" fill="none" stroke="#183f72" stroke-width="1.5" stroke-linejoin="miter" stroke-linecap="butt" />
<path d="M55.8 290 L56 300 L56.2 310 L56.6 322 L57.4 329.2 L58.6 334.6 L60.2 339.2 L61.7 343.8 L63.2 347.7 L64.8 351.5 L66.3 355.4 L68.6 360 L71.7 364.6 L75.5 369 L78.8 373.6 L82.7 379 L86.5 384.2 L91.3 388.8 L96.2 390.8 L101 392.7 L106.7 394.6 L108 394.96" fill="none" stroke="#183f72" stroke-width="2.9" stroke-linejoin="miter" stroke-linecap="butt" stroke-linejoin="round"/>
<line x1="58.3" y1="331.05" x2="58.3" y2="335.45" stroke="#183f72" stroke-width="1.0"/>
<line x1="60.16" y1="336.88" x2="60.16" y2="341.28" stroke="#183f72" stroke-width="1.0"/>
<line x1="62.47" y1="343.61" x2="62.47" y2="348.01" stroke="#183f72" stroke-width="1.0"/>
<line x1="64.53" y1="348.65" x2="64.53" y2="353.05" stroke="#183f72" stroke-width="1.0"/>
<line x1="66.93" y1="354.47" x2="66.93" y2="358.87" stroke="#183f72" stroke-width="1.0"/>
<line x1="69.37" y1="358.95" x2="69.37" y2="363.35" stroke="#183f72" stroke-width="1.0"/>
<line x1="70.97" y1="361.32" x2="70.97" y2="365.72" stroke="#183f72" stroke-width="1.0"/>
<line x1="72.49" y1="363.32" x2="72.49" y2="367.72" stroke="#183f72" stroke-width="1.0"/>
<line x1="75.25" y1="366.51" x2="75.25" y2="370.91" stroke="#183f72" stroke-width="1.0"/>
<line x1="77.14" y1="369.08" x2="77.14" y2="373.48" stroke="#183f72" stroke-width="1.0"/>
<line x1="78.99" y1="371.66" x2="78.99" y2="376.06" stroke="#183f72" stroke-width="1.0"/>
<line x1="81.98" y1="375.8" x2="81.98" y2="380.2" stroke="#183f72" stroke-width="1.0"/>
<line x1="84.19" y1="378.83" x2="84.19" y2="383.23" stroke="#183f72" stroke-width="1.0"/>
<line x1="86.94" y1="382.42" x2="86.94" y2="386.82" stroke="#183f72" stroke-width="1.0"/>
<line x1="89.16" y1="384.54" x2="89.16" y2="388.94" stroke="#183f72" stroke-width="1.0"/>
<line x1="91.61" y1="386.73" x2="91.61" y2="391.13" stroke="#183f72" stroke-width="1.0"/>
<line x1="93.34" y1="387.43" x2="93.34" y2="391.83" stroke="#183f72" stroke-width="1.0"/>
<line x1="95.79" y1="388.43" x2="95.79" y2="392.83" stroke="#183f72" stroke-width="1.0"/>
<line x1="98.59" y1="389.55" x2="98.59" y2="393.95" stroke="#183f72" stroke-width="1.0"/>
<line x1="100.88" y1="390.45" x2="100.88" y2="394.85" stroke="#183f72" stroke-width="1.0"/>
<line x1="103.49" y1="391.33" x2="103.49" y2="395.73" stroke="#183f72" stroke-width="1.0"/>
<line x1="106" y1="392.17" x2="106" y2="396.57" stroke="#183f72" stroke-width="1.0"/>
<line x1="107.59" y1="392.65" x2="107.59" y2="397.05" stroke="#183f72" stroke-width="1.0"/>
<line x1="110.23" y1="393.59" x2="110.23" y2="397.59" stroke="#183f72" stroke-width="1.0"/>
<line x1="112.74" y1="394.29" x2="112.74" y2="398.29" stroke="#183f72" stroke-width="1.0"/>
<line x1="114.9" y1="394.9" x2="114.9" y2="398.9" stroke="#183f72" stroke-width="1.0"/>
<line x1="116.74" y1="395.43" x2="116.74" y2="399.43" stroke="#183f72" stroke-width="1.0"/>
<line x1="119.58" y1="396.24" x2="119.58" y2="400.24" stroke="#183f72" stroke-width="1.0"/>
<line x1="121.95" y1="396.9" x2="121.95" y2="400.9" stroke="#183f72" stroke-width="1.0"/>
<line x1="124.61" y1="397.63" x2="124.61" y2="401.63" stroke="#183f72" stroke-width="1.0"/>
<line x1="127.46" y1="398.4" x2="127.46" y2="402.4" stroke="#183f72" stroke-width="1.0"/>
<line x1="130.12" y1="399.12" x2="130.12" y2="403.12" stroke="#183f72" stroke-width="1.0"/>
<line x1="133.03" y1="399.66" x2="133.03" y2="403.66" stroke="#183f72" stroke-width="1.0"/>
<line x1="135.3" y1="399.89" x2="135.3" y2="403.89" stroke="#183f72" stroke-width="1.0"/>
<line x1="138.06" y1="400.18" x2="138.06" y2="404.18" stroke="#183f72" stroke-width="1.0"/>
<line x1="140.39" y1="400.42" x2="140.39" y2="404.42" stroke="#183f72" stroke-width="1.0"/>
<line x1="143.32" y1="400.76" x2="143.32" y2="404.76" stroke="#183f72" stroke-width="1.0"/>
<line x1="146.17" y1="401.62" x2="146.17" y2="405.62" stroke="#183f72" stroke-width="1.0"/>
<line x1="148.09" y1="402.19" x2="148.09" y2="406.19" stroke="#183f72" stroke-width="1.0"/>
<line x1="150.05" y1="402.53" x2="150.05" y2="406.53" stroke="#183f72" stroke-width="1.0"/>
<line x1="152.11" y1="402.74" x2="152.11" y2="406.74" stroke="#183f72" stroke-width="1.0"/>
<line x1="155.07" y1="403.02" x2="155.07" y2="407.02" stroke="#183f72" stroke-width="1.0"/>
<line x1="157.39" y1="403.14" x2="157.39" y2="407.14" stroke="#183f72" stroke-width="1.0"/>
<line x1="159.95" y1="403.28" x2="159.95" y2="407.28" stroke="#183f72" stroke-width="1.0"/>
<line x1="162.11" y1="403.39" x2="162.11" y2="407.39" stroke="#183f72" stroke-width="1.0"/>
<line x1="164.52" y1="403.51" x2="164.52" y2="407.51" stroke="#183f72" stroke-width="1.0"/>
<line x1="166.78" y1="403.77" x2="166.78" y2="407.77" stroke="#183f72" stroke-width="1.0"/>
<line x1="169" y1="404.43" x2="169" y2="408.43" stroke="#183f72" stroke-width="1.0"/>
<line x1="171.5" y1="405.18" x2="171.5" y2="409.18" stroke="#183f72" stroke-width="1.0"/>
<line x1="174" y1="405.4" x2="174" y2="409.4" stroke="#183f72" stroke-width="1.0"/>
<line x1="176.89" y1="405.55" x2="176.89" y2="409.55" stroke="#183f72" stroke-width="1.0"/>
<line x1="179.51" y1="405.68" x2="179.51" y2="409.68" stroke="#183f72" stroke-width="1.0"/>
<line x1="182.42" y1="405.83" x2="182.42" y2="409.83" stroke="#183f72" stroke-width="1.0"/>
<line x1="185.25" y1="405.98" x2="185.25" y2="409.98" stroke="#183f72" stroke-width="1.0"/>
<line x1="188.24" y1="406.29" x2="188.24" y2="410.29" stroke="#183f72" stroke-width="1.0"/>
<line x1="190.84" y1="406.97" x2="190.84" y2="410.97" stroke="#183f72" stroke-width="1.0"/>
<line x1="192.84" y1="407.45" x2="192.84" y2="411.45" stroke="#183f72" stroke-width="1.0"/>
<line x1="195.67" y1="407.91" x2="195.67" y2="411.91" stroke="#183f72" stroke-width="1.0"/>
<line x1="198.63" y1="408.38" x2="198.63" y2="412.38" stroke="#183f72" stroke-width="1.0"/>
<line x1="201.9" y1="408.6" x2="201.9" y2="412.6" stroke="#183f72" stroke-width="1.0"/>
<line x1="208.1" y1="408.6" x2="208.1" y2="412.6" stroke="#183f72" stroke-width="1.0"/>
<line x1="210.6" y1="408.6" x2="210.6" y2="412.6" stroke="#183f72" stroke-width="1.0"/>
<line x1="212.5" y1="408.6" x2="212.5" y2="412.6" stroke="#183f72" stroke-width="1.0"/>
<line x1="218.1" y1="408.6" x2="218.1" y2="412.6" stroke="#183f72" stroke-width="1.0"/>
<line x1="219.4" y1="408.6" x2="219.4" y2="412.6" stroke="#183f72" stroke-width="1.0"/>
<line x1="226.3" y1="408.6" x2="226.3" y2="412.6" stroke="#183f72" stroke-width="1.0"/>
<line x1="227.5" y1="408.6" x2="227.5" y2="412.6" stroke="#183f72" stroke-width="1.0"/>
<line x1="232.5" y1="408.6" x2="232.5" y2="412.6" stroke="#183f72" stroke-width="1.0"/>
<line x1="235" y1="408.6" x2="235" y2="412.6" stroke="#183f72" stroke-width="1.0"/>
<line x1="238.1" y1="408.6" x2="238.1" y2="412.6" stroke="#183f72" stroke-width="1.0"/>
</g>
<path d="M55.8 469.2 L55.8 290 L243.3 290 L243.3 469.2 Z" fill="none" stroke="#111" stroke-width="1.5"/>
<line x1="51.8" y1="290" x2="55.8" y2="290" stroke="#111" stroke-width="1.3"/>
<text x="46.6" y="292.9" font-size="8.1" text-anchor="end" fill="#333" stroke="#333" textLength="22.4" lengthAdjust="spacingAndGlyphs" >100%</text>
<line x1="51.8" y1="325.84" x2="55.8" y2="325.84" stroke="#111" stroke-width="1.3"/>
<text x="46.6" y="328.74" font-size="8.1" text-anchor="end" fill="#333" stroke="#333" textLength="16.5" lengthAdjust="spacingAndGlyphs" >80%</text>
<line x1="51.8" y1="361.68" x2="55.8" y2="361.68" stroke="#111" stroke-width="1.3"/>
<text x="46.6" y="364.58" font-size="8.1" text-anchor="end" fill="#333" stroke="#333" textLength="16.5" lengthAdjust="spacingAndGlyphs" >60%</text>
<line x1="51.8" y1="397.52" x2="55.8" y2="397.52" stroke="#111" stroke-width="1.3"/>
<text x="46.6" y="400.42" font-size="8.1" text-anchor="end" fill="#333" stroke="#333" textLength="16.5" lengthAdjust="spacingAndGlyphs" >40%</text>
<line x1="51.8" y1="433.36" x2="55.8" y2="433.36" stroke="#111" stroke-width="1.3"/>
<text x="46.6" y="436.26" font-size="8.1" text-anchor="end" fill="#333" stroke="#333" textLength="16.5" lengthAdjust="spacingAndGlyphs" >20%</text>
<line x1="51.8" y1="469.2" x2="55.8" y2="469.2" stroke="#111" stroke-width="1.3"/>
<text x="46.6" y="472.1" font-size="8.1" text-anchor="end" fill="#333" stroke="#333" textLength="11" lengthAdjust="spacingAndGlyphs" >0%</text>
<line x1="55.8" y1="469.2" x2="55.8" y2="473.4" stroke="#111" stroke-width="1.3"/>
<line x1="71.42" y1="469.2" x2="71.42" y2="473.4" stroke="#111" stroke-width="1.3"/>
<text x="71.72" y="486.1" font-size="8.3" text-anchor="middle" fill="#333" stroke="#333" >1</text>
<line x1="87.05" y1="469.2" x2="87.05" y2="473.4" stroke="#111" stroke-width="1.3"/>
<text x="87.35" y="486.1" font-size="8.3" text-anchor="middle" fill="#333" stroke="#333" >2</text>
<line x1="102.67" y1="469.2" x2="102.67" y2="473.4" stroke="#111" stroke-width="1.3"/>
<text x="102.97" y="486.1" font-size="8.3" text-anchor="middle" fill="#333" stroke="#333" >3</text>
<line x1="118.3" y1="469.2" x2="118.3" y2="473.4" stroke="#111" stroke-width="1.3"/>
<text x="118.6" y="486.1" font-size="8.3" text-anchor="middle" fill="#333" stroke="#333" >4</text>
<line x1="133.93" y1="469.2" x2="133.93" y2="473.4" stroke="#111" stroke-width="1.3"/>
<text x="134.23" y="486.1" font-size="8.3" text-anchor="middle" fill="#333" stroke="#333" >5</text>
<line x1="149.55" y1="469.2" x2="149.55" y2="473.4" stroke="#111" stroke-width="1.3"/>
<text x="149.85" y="486.1" font-size="8.3" text-anchor="middle" fill="#333" stroke="#333" >6</text>
<line x1="165.18" y1="469.2" x2="165.18" y2="473.4" stroke="#111" stroke-width="1.3"/>
<text x="165.48" y="486.1" font-size="8.3" text-anchor="middle" fill="#333" stroke="#333" >7</text>
<line x1="180.8" y1="469.2" x2="180.8" y2="473.4" stroke="#111" stroke-width="1.3"/>
<text x="181.1" y="486.1" font-size="8.3" text-anchor="middle" fill="#333" stroke="#333" >8</text>
<line x1="196.43" y1="469.2" x2="196.43" y2="473.4" stroke="#111" stroke-width="1.3"/>
<text x="196.73" y="486.1" font-size="8.3" text-anchor="middle" fill="#333" stroke="#333" >9</text>
<line x1="212.05" y1="469.2" x2="212.05" y2="473.4" stroke="#111" stroke-width="1.3"/>
<text x="212.35" y="486.1" font-size="8.3" text-anchor="middle" fill="#333" stroke="#333" >10</text>
<line x1="227.68" y1="469.2" x2="227.68" y2="473.4" stroke="#111" stroke-width="1.3"/>
<text x="227.98" y="486.1" font-size="8.3" text-anchor="middle" fill="#333" stroke="#333" >11</text>
<line x1="243.3" y1="469.2" x2="243.3" y2="473.4" stroke="#111" stroke-width="1.3"/>
<text x="243.6" y="486.1" font-size="8.3" text-anchor="middle" fill="#333" stroke="#333" >12</text>
<text x="0" y="0" font-size="8.6" font-weight="bold" fill="#3a3a3a" text-anchor="middle" textLength="41" lengthAdjust="spacingAndGlyphs" transform="translate(17.4 379.8) rotate(-90)">Overall survival</text>
<text x="149.2" y="499.8" font-size="8.6" text-anchor="middle" font-weight="bold" fill="#3a3a3a" textLength="14.6" lengthAdjust="spacingAndGlyphs" >Years</text>
<line x1="95.2" y1="296.8" x2="112.2" y2="296.8" stroke="#183f72" stroke-width="1.3"/>
<text x="117.1" y="299.2" font-size="7.2" fill="#333" stroke="#333" textLength="58" lengthAdjust="spacingAndGlyphs" >no hit (21 months)</text>
<line x1="95.2" y1="305.7" x2="112.2" y2="305.7" stroke="#4f2f6e" stroke-width="1.3"/>
<text x="117.1" y="308.1" font-size="7.2" fill="#333" stroke="#333" textLength="94.5" lengthAdjust="spacingAndGlyphs" >mut only (4 months, <tspan font-style="italic">P</tspan> = .001)</text>
<line x1="95.2" y1="314.6" x2="112.2" y2="314.6" stroke="#5f6363" stroke-width="1.3"/>
<text x="117.1" y="317" font-size="7.2" fill="#333" stroke="#333" textLength="84" lengthAdjust="spacingAndGlyphs" >del only (18 months, n.s.)</text>
<line x1="95.2" y1="323.5" x2="112.2" y2="323.5" stroke="#d3c9ce" stroke-width="1.3"/>
<text x="117.1" y="325.9" font-size="7.2" fill="#333" stroke="#333" textLength="122.1" lengthAdjust="spacingAndGlyphs" >cnLOH only (number of cases too low)</text>
<line x1="95.2" y1="332.4" x2="112.2" y2="332.4" stroke="#ab1f40" stroke-width="1.3"/>
<text x="117.1" y="334.8" font-size="7.2" fill="#333" stroke="#333" textLength="95" lengthAdjust="spacingAndGlyphs" >mut + del (1 month, <tspan font-style="italic">P</tspan> &lt; .001)</text>
<line x1="95.2" y1="341.3" x2="112.2" y2="341.3" stroke="#d0928a" stroke-width="1.3"/>
<text x="117.1" y="343.7" font-size="7.2" fill="#333" stroke="#333" textLength="108" lengthAdjust="spacingAndGlyphs" >mut + cnLOH (1 month, <tspan font-style="italic">P</tspan> &lt; .001)</text>
<line x1="95.2" y1="350.2" x2="112.2" y2="350.2" stroke="#efb3a9" stroke-width="1.3"/>
<text x="117.1" y="352.6" font-size="7.2" fill="#333" stroke="#333" textLength="91.3" lengthAdjust="spacingAndGlyphs" >≥ 2 mut (2 months, <tspan font-style="italic">P</tspan> &lt; .001)</text>
<text x="271.9" y="276.5" font-size="15.9" font-weight="bold" fill="#111" >D</text>
<text x="411.6" y="283.5" font-size="8.8" text-anchor="middle" fill="#222" stroke="#222" textLength="19.7" lengthAdjust="spacingAndGlyphs" >MDS</text>
<clipPath id="cd"><rect x="317.8" y="284" width="194.2" height="186"/></clipPath><g clip-path="url(#cd)">
<path d="M317.8 290 L319.5 300 L322 304 L322 320 L325 320 L325 392 L328.4 392 L328.4 400 L331.6 400 L331.6 415 L334.6 415" fill="none" stroke="#efb3a9" stroke-width="1.1" stroke-linejoin="miter" stroke-linecap="butt" />
<path d="M326.9 320 L326.9 362" fill="none" stroke="#efb3a9" stroke-width="1.1" stroke-linejoin="miter" stroke-linecap="butt" />
<path d="M317.8 290 L320 290 L320 300 L322.5 300 L322.5 318 L324.5 318 L324.5 335 L326.5 335 L326.5 350 L328.4 350 L328.4 365 L328.4 387.5 L332.4 387.5 L332.4 414 L334.6 414 L334.6 424 L336.8 424 L336.8 440 L380.3 440 L380.3 469.2" fill="none" stroke="#d0928a" stroke-width="1.1" stroke-linejoin="miter" stroke-linecap="butt" />
<line x1="369.5" y1="438.2" x2="369.5" y2="441.8" stroke="#d0928a" stroke-width="0.9"/>
<line x1="327.4" y1="358.7" x2="327.4" y2="362.3" stroke="#efb3a9" stroke-width="0.9"/>
<path d="M317.8 290 L323.4 290 L323.4 342.1 L336.4 342.1 L336.4 359.5 L338.5 359.5 L338.5 393.1 L390 393.1 L390 469.2" fill="none" stroke="#5f6363" stroke-width="1.1" stroke-linejoin="miter" stroke-linecap="butt" />
<line x1="339.7" y1="391.3" x2="339.7" y2="394.9" stroke="#5f6363" stroke-width="0.9"/>
<line x1="370.5" y1="391.3" x2="370.5" y2="394.9" stroke="#5f6363" stroke-width="0.9"/>
<path d="M317.8 290 L318.9 290 L318.9 296.5 L320.5 296.5 L320.5 298 L322.4 298 L322.4 305 L324.4 305 L324.4 317.8 L326.9 317.8 L326.9 321.8 L328.7 321.8 L328.7 334.6 L332.2 334.6 L332.2 337 L333.3 337 L333.3 342.7 L335.7 342.7 L335.7 355.4 L338.5 355.4 L338.5 360 L339.7 360 L339.7 366.9 L344.3 366.9 L344.3 370.4 L352.8 370.4 L352.8 371.5 L353.5 371.5 L353.5 375.4 L358.2 375.4 L358.2 379.2 L361.2 379.2 L361.2 380 L361.2 386.9 L362.8 386.9 L362.8 390.8 L365.8 390.8 L366.6 390.8 L366.6 400 L370.5 400 L371.2 400 L371.2 409.2 L373.5 409.2 L373.5 414.6 L376.6 414.6 L376.6 415.4 L378.2 415.4 L378.2 421.5 L379.7 421.5 L379.7 426.2 L382.8 426.2 L383.5 426.2 L383.5 432.3 L385.8 432.3 L385.8 436.9 L388.9 436.9 L388.9 441.8 L418 441.8 L418 448.8 L468.2 448.8" fill="none" stroke="#4f2f6e" stroke-width="1.2" stroke-linejoin="miter" stroke-linecap="butt" />
<line x1="344" y1="368.6" x2="344" y2="372.2" stroke="#4f2f6e" stroke-width="0.9"/>
<line x1="347" y1="369.2" x2="347" y2="372.8" stroke="#4f2f6e" stroke-width="0.9"/>
<line x1="350" y1="369.7" x2="350" y2="373.3" stroke="#4f2f6e" stroke-width="0.9"/>
<line x1="353" y1="373.6" x2="353" y2="377.2" stroke="#4f2f6e" stroke-width="0.9"/>
<line x1="361.2" y1="382.2" x2="361.2" y2="385.8" stroke="#4f2f6e" stroke-width="0.9"/>
<line x1="371.5" y1="410.2" x2="371.5" y2="413.8" stroke="#4f2f6e" stroke-width="0.9"/>
<line x1="389.5" y1="440" x2="389.5" y2="443.6" stroke="#4f2f6e" stroke-width="0.9"/>
<line x1="422" y1="447" x2="422" y2="450.6" stroke="#4f2f6e" stroke-width="0.9"/>
<line x1="460" y1="447" x2="460" y2="450.6" stroke="#4f2f6e" stroke-width="0.9"/>
<line x1="467" y1="447" x2="467" y2="450.6" stroke="#4f2f6e" stroke-width="0.9"/>
<line x1="330" y1="333.7" x2="330" y2="337.3" stroke="#4f2f6e" stroke-width="0.9"/>
<line x1="333" y1="339.2" x2="333" y2="342.8" stroke="#4f2f6e" stroke-width="0.9"/>
<path d="M317.8 290 L319 298 L320.3 312.8 L320.5 330 L320.5 372.4 L322.2 372.4 L322.2 385.2 L324.5 385.2 L324.5 397 L325.6 397 L325.6 409.5 L330.1 409.5 L330.1 421.3 L334 421.3 L334 444.8 L339.7 444.8 L339.7 457.7" fill="none" stroke="#ab1f40" stroke-width="1.3" stroke-linejoin="miter" stroke-linecap="butt" />
<path d="M339.7 455.4 L341.6 457.7 L339.7 460 L337.8 457.7 Z" fill="#ab1f40"/>
<line x1="323.3" y1="383.4" x2="323.3" y2="387" stroke="#ab1f40" stroke-width="0.9"/>
<path d="M318 290 L319.4 291.8 L322.8 298.6 L326.6 306.3 L329.5 312 L332.4 317.8 L336.2 323.6 L340.1 329.5 L344.8 337 L349.6 343.8 L354.4 350 L359.2 355.8 L364 362.5 L368.8 368.8 L373.5 375 L379.6 383.5 L384.4 389.2 L389.2 395 L395 399.3 L398.8 401.3 L403.7 405.6 L410 409.4 L414.8 412.6 L419.6 414.7 L424.4 416.4 L429.2 420 L434 424.6 L438.8 427.7 L443.7 430.6 L448.5 432.5 L453.3 434.4 L459 436.3 L476.2 436.3 L476.2 440.4 L480.5 440.4 L480.5 444.8 L502.6 444.8 L502.6 450.8 L504 450.8 L504 455.6" fill="none" stroke="#183f72" stroke-width="1.5" stroke-linejoin="miter" stroke-linecap="butt" />
<path d="M318 290 L319.4 291.8 L322.8 298.6 L326.6 306.3 L329.5 312 L332.4 317.8 L336.2 323.6 L340.1 329.5 L344.8 337 L349.6 343.8 L354.4 350 L359.2 355.8 L364 362.5 L368.8 368.8 L373.5 375 L379.6 383.5 L384.4 389.2 L389.2 395 L395 399.3 L398.8 401.3 L403.7 405.6 L410 409.4 L414.8 412.6 L419.6 414.7 L424.4 416.4 L429.2 420 L434 424.6 L438.8 427.7 L443.7 430.6 L448.5 432.5 L453.3 434.4 L456 435.3" fill="none" stroke="#183f72" stroke-width="2.9" stroke-linejoin="miter" stroke-linecap="butt" stroke-linejoin="round"/>
<line x1="320.5" y1="291.8" x2="320.5" y2="296.2" stroke="#183f72" stroke-width="1.0"/>
<line x1="322.35" y1="295.51" x2="322.35" y2="299.91" stroke="#183f72" stroke-width="1.0"/>
<line x1="324.01" y1="298.85" x2="324.01" y2="303.25" stroke="#183f72" stroke-width="1.0"/>
<line x1="326.1" y1="303.09" x2="326.1" y2="307.49" stroke="#183f72" stroke-width="1.0"/>
<line x1="327.84" y1="306.53" x2="327.84" y2="310.93" stroke="#183f72" stroke-width="1.0"/>
<line x1="329.44" y1="309.67" x2="329.44" y2="314.07" stroke="#183f72" stroke-width="1.0"/>
<line x1="331.54" y1="313.88" x2="331.54" y2="318.28" stroke="#183f72" stroke-width="1.0"/>
<line x1="334.41" y1="318.67" x2="334.41" y2="323.07" stroke="#183f72" stroke-width="1.0"/>
<line x1="337.12" y1="322.78" x2="337.12" y2="327.18" stroke="#183f72" stroke-width="1.0"/>
<line x1="339.76" y1="326.79" x2="339.76" y2="331.19" stroke="#183f72" stroke-width="1.0"/>
<line x1="341.6" y1="329.69" x2="341.6" y2="334.09" stroke="#183f72" stroke-width="1.0"/>
<line x1="343.9" y1="333.37" x2="343.9" y2="337.77" stroke="#183f72" stroke-width="1.0"/>
<line x1="345.82" y1="336.24" x2="345.82" y2="340.64" stroke="#183f72" stroke-width="1.0"/>
<line x1="347.57" y1="338.73" x2="347.57" y2="343.13" stroke="#183f72" stroke-width="1.0"/>
<line x1="349.23" y1="341.08" x2="349.23" y2="345.48" stroke="#183f72" stroke-width="1.0"/>
<line x1="351.06" y1="343.48" x2="351.06" y2="347.88" stroke="#183f72" stroke-width="1.0"/>
<line x1="353.95" y1="347.21" x2="353.95" y2="351.61" stroke="#183f72" stroke-width="1.0"/>
<line x1="356.69" y1="350.57" x2="356.69" y2="354.97" stroke="#183f72" stroke-width="1.0"/>
<line x1="359.4" y1="353.88" x2="359.4" y2="358.28" stroke="#183f72" stroke-width="1.0"/>
<line x1="362.1" y1="357.65" x2="362.1" y2="362.05" stroke="#183f72" stroke-width="1.0"/>
<line x1="363.89" y1="360.15" x2="363.89" y2="364.55" stroke="#183f72" stroke-width="1.0"/>
<line x1="365.86" y1="362.74" x2="365.86" y2="367.14" stroke="#183f72" stroke-width="1.0"/>
<line x1="368.3" y1="365.94" x2="368.3" y2="370.34" stroke="#183f72" stroke-width="1.0"/>
<line x1="370.89" y1="369.36" x2="370.89" y2="373.76" stroke="#183f72" stroke-width="1.0"/>
<line x1="373.68" y1="373.05" x2="373.68" y2="377.45" stroke="#183f72" stroke-width="1.0"/>
<line x1="376.5" y1="376.98" x2="376.5" y2="381.38" stroke="#183f72" stroke-width="1.0"/>
<line x1="378.13" y1="379.25" x2="378.13" y2="383.65" stroke="#183f72" stroke-width="1.0"/>
<line x1="380.54" y1="382.41" x2="380.54" y2="386.81" stroke="#183f72" stroke-width="1.0"/>
<line x1="383.04" y1="385.39" x2="383.04" y2="389.79" stroke="#183f72" stroke-width="1.0"/>
<line x1="385.3" y1="388.09" x2="385.3" y2="392.49" stroke="#183f72" stroke-width="1.0"/>
<line x1="387.07" y1="390.22" x2="387.07" y2="394.62" stroke="#183f72" stroke-width="1.0"/>
<line x1="389.28" y1="392.86" x2="389.28" y2="397.26" stroke="#183f72" stroke-width="1.0"/>
<line x1="390.91" y1="394.07" x2="390.91" y2="398.47" stroke="#183f72" stroke-width="1.0"/>
<line x1="393.81" y1="396.22" x2="393.81" y2="400.62" stroke="#183f72" stroke-width="1.0"/>
<line x1="396.61" y1="397.95" x2="396.61" y2="402.35" stroke="#183f72" stroke-width="1.0"/>
<line x1="398.93" y1="399.22" x2="398.93" y2="403.62" stroke="#183f72" stroke-width="1.0"/>
<line x1="400.88" y1="400.93" x2="400.88" y2="405.33" stroke="#183f72" stroke-width="1.0"/>
<line x1="403.75" y1="403.43" x2="403.75" y2="407.83" stroke="#183f72" stroke-width="1.0"/>
<line x1="406.11" y1="404.85" x2="406.11" y2="409.25" stroke="#183f72" stroke-width="1.0"/>
<line x1="408.93" y1="406.55" x2="408.93" y2="410.95" stroke="#183f72" stroke-width="1.0"/>
<line x1="411.7" y1="408.33" x2="411.7" y2="412.73" stroke="#183f72" stroke-width="1.0"/>
<line x1="413.96" y1="409.84" x2="413.96" y2="414.24" stroke="#183f72" stroke-width="1.0"/>
<line x1="416.09" y1="410.96" x2="416.09" y2="415.36" stroke="#183f72" stroke-width="1.0"/>
<line x1="418.48" y1="412.01" x2="418.48" y2="416.41" stroke="#183f72" stroke-width="1.0"/>
<line x1="420.63" y1="412.86" x2="420.63" y2="417.26" stroke="#183f72" stroke-width="1.0"/>
<line x1="422.37" y1="413.48" x2="422.37" y2="417.88" stroke="#183f72" stroke-width="1.0"/>
<line x1="424.33" y1="414.18" x2="424.33" y2="418.58" stroke="#183f72" stroke-width="1.0"/>
<line x1="427.05" y1="416.19" x2="427.05" y2="420.59" stroke="#183f72" stroke-width="1.0"/>
<line x1="428.61" y1="417.36" x2="428.61" y2="421.76" stroke="#183f72" stroke-width="1.0"/>
<line x1="430.18" y1="418.74" x2="430.18" y2="423.14" stroke="#183f72" stroke-width="1.0"/>
<line x1="432.62" y1="421.08" x2="432.62" y2="425.48" stroke="#183f72" stroke-width="1.0"/>
<line x1="434.54" y1="422.75" x2="434.54" y2="427.15" stroke="#183f72" stroke-width="1.0"/>
<line x1="436.85" y1="424.24" x2="436.85" y2="428.64" stroke="#183f72" stroke-width="1.0"/>
<line x1="439.05" y1="425.65" x2="439.05" y2="430.05" stroke="#183f72" stroke-width="1.0"/>
<line x1="441.07" y1="426.84" x2="441.07" y2="431.24" stroke="#183f72" stroke-width="1.0"/>
<line x1="444.06" y1="428.54" x2="444.06" y2="432.94" stroke="#183f72" stroke-width="1.0"/>
<line x1="445.86" y1="429.25" x2="445.86" y2="433.65" stroke="#183f72" stroke-width="1.0"/>
<line x1="447.97" y1="430.09" x2="447.97" y2="434.49" stroke="#183f72" stroke-width="1.0"/>
<line x1="449.78" y1="430.81" x2="449.78" y2="435.21" stroke="#183f72" stroke-width="1.0"/>
<line x1="452.23" y1="431.78" x2="452.23" y2="436.18" stroke="#183f72" stroke-width="1.0"/>
<line x1="454.14" y1="432.48" x2="454.14" y2="436.88" stroke="#183f72" stroke-width="1.0"/>
<line x1="458.8" y1="434.23" x2="458.8" y2="438.23" stroke="#183f72" stroke-width="1.0"/>
<line x1="459.8" y1="434.3" x2="459.8" y2="438.3" stroke="#183f72" stroke-width="1.0"/>
<line x1="465.6" y1="434.3" x2="465.6" y2="438.3" stroke="#183f72" stroke-width="1.0"/>
<line x1="468.9" y1="434.3" x2="468.9" y2="438.3" stroke="#183f72" stroke-width="1.0"/>
<line x1="469.9" y1="434.3" x2="469.9" y2="438.3" stroke="#183f72" stroke-width="1.0"/>
<line x1="488.2" y1="442.8" x2="488.2" y2="446.8" stroke="#183f72" stroke-width="1.0"/>
</g>
<path d="M317.8 469.2 L317.8 290 L505.4 290 L505.4 469.2 Z" fill="none" stroke="#111" stroke-width="1.5"/>
<line x1="313.8" y1="290" x2="317.8" y2="290" stroke="#111" stroke-width="1.3"/>
<text x="308.9" y="292.9" font-size="8.1" text-anchor="end" fill="#333" stroke="#333" textLength="22.4" lengthAdjust="spacingAndGlyphs" >100%</text>
<line x1="313.8" y1="325.84" x2="317.8" y2="325.84" stroke="#111" stroke-width="1.3"/>
<text x="308.9" y="328.74" font-size="8.1" text-anchor="end" fill="#333" stroke="#333" textLength="16.5" lengthAdjust="spacingAndGlyphs" >80%</text>
<line x1="313.8" y1="361.68" x2="317.8" y2="361.68" stroke="#111" stroke-width="1.3"/>
<text x="308.9" y="364.58" font-size="8.1" text-anchor="end" fill="#333" stroke="#333" textLength="16.5" lengthAdjust="spacingAndGlyphs" >60%</text>
<line x1="313.8" y1="397.52" x2="317.8" y2="397.52" stroke="#111" stroke-width="1.3"/>
<text x="308.9" y="400.42" font-size="8.1" text-anchor="end" fill="#333" stroke="#333" textLength="16.5" lengthAdjust="spacingAndGlyphs" >40%</text>
<line x1="313.8" y1="433.36" x2="317.8" y2="433.36" stroke="#111" stroke-width="1.3"/>
<text x="308.9" y="436.26" font-size="8.1" text-anchor="end" fill="#333" stroke="#333" textLength="16.5" lengthAdjust="spacingAndGlyphs" >20%</text>
<line x1="313.8" y1="469.2" x2="317.8" y2="469.2" stroke="#111" stroke-width="1.3"/>
<text x="308.9" y="472.1" font-size="8.1" text-anchor="end" fill="#333" stroke="#333" textLength="11" lengthAdjust="spacingAndGlyphs" >0%</text>
<line x1="317.8" y1="469.2" x2="317.8" y2="473.4" stroke="#111" stroke-width="1.3"/>
<line x1="328.22" y1="469.2" x2="328.22" y2="473.4" stroke="#111" stroke-width="1.3"/>
<line x1="338.64" y1="469.2" x2="338.64" y2="473.4" stroke="#111" stroke-width="1.3"/>
<text x="338.94" y="486.1" font-size="8.3" text-anchor="middle" fill="#333" stroke="#333" >2</text>
<line x1="349.07" y1="469.2" x2="349.07" y2="473.4" stroke="#111" stroke-width="1.3"/>
<line x1="359.49" y1="469.2" x2="359.49" y2="473.4" stroke="#111" stroke-width="1.3"/>
<text x="359.79" y="486.1" font-size="8.3" text-anchor="middle" fill="#333" stroke="#333" >4</text>
<line x1="369.91" y1="469.2" x2="369.91" y2="473.4" stroke="#111" stroke-width="1.3"/>
<line x1="380.33" y1="469.2" x2="380.33" y2="473.4" stroke="#111" stroke-width="1.3"/>
<text x="380.63" y="486.1" font-size="8.3" text-anchor="middle" fill="#333" stroke="#333" >6</text>
<line x1="390.76" y1="469.2" x2="390.76" y2="473.4" stroke="#111" stroke-width="1.3"/>
<line x1="401.18" y1="469.2" x2="401.18" y2="473.4" stroke="#111" stroke-width="1.3"/>
<text x="401.48" y="486.1" font-size="8.3" text-anchor="middle" fill="#333" stroke="#333" >8</text>
<line x1="411.6" y1="469.2" x2="411.6" y2="473.4" stroke="#111" stroke-width="1.3"/>
<line x1="422.02" y1="469.2" x2="422.02" y2="473.4" stroke="#111" stroke-width="1.3"/>
<text x="422.32" y="486.1" font-size="8.3" text-anchor="middle" fill="#333" stroke="#333" >10</text>
<line x1="432.44" y1="469.2" x2="432.44" y2="473.4" stroke="#111" stroke-width="1.3"/>
<line x1="442.87" y1="469.2" x2="442.87" y2="473.4" stroke="#111" stroke-width="1.3"/>
<text x="443.17" y="486.1" font-size="8.3" text-anchor="middle" fill="#333" stroke="#333" >12</text>
<line x1="453.29" y1="469.2" x2="453.29" y2="473.4" stroke="#111" stroke-width="1.3"/>
<line x1="463.71" y1="469.2" x2="463.71" y2="473.4" stroke="#111" stroke-width="1.3"/>
<text x="464.01" y="486.1" font-size="8.3" text-anchor="middle" fill="#333" stroke="#333" >14</text>
<line x1="474.13" y1="469.2" x2="474.13" y2="473.4" stroke="#111" stroke-width="1.3"/>
<line x1="484.56" y1="469.2" x2="484.56" y2="473.4" stroke="#111" stroke-width="1.3"/>
<text x="484.86" y="486.1" font-size="8.3" text-anchor="middle" fill="#333" stroke="#333" >16</text>
<line x1="494.98" y1="469.2" x2="494.98" y2="473.4" stroke="#111" stroke-width="1.3"/>
<line x1="505.4" y1="469.2" x2="505.4" y2="473.4" stroke="#111" stroke-width="1.3"/>
<text x="505.7" y="486.1" font-size="8.3" text-anchor="middle" fill="#333" stroke="#333" >18</text>
<text x="0" y="0" font-size="8.6" font-weight="bold" fill="#3a3a3a" text-anchor="middle" textLength="41" lengthAdjust="spacingAndGlyphs" transform="translate(279.5 379.8) rotate(-90)">Overall survival</text>
<text x="411.6" y="499.8" font-size="8.6" text-anchor="middle" font-weight="bold" fill="#3a3a3a" textLength="14.6" lengthAdjust="spacingAndGlyphs" >Years</text>
<line x1="358.6" y1="296.8" x2="376.2" y2="296.8" stroke="#183f72" stroke-width="1.3"/>
<text x="379.8" y="299.2" font-size="7.2" fill="#333" stroke="#333" textLength="57.8" lengthAdjust="spacingAndGlyphs" >no hit (70 months)</text>
<line x1="358.6" y1="305.7" x2="376.2" y2="305.7" stroke="#4f2f6e" stroke-width="1.3"/>
<text x="379.8" y="308.1" font-size="7.2" fill="#333" stroke="#333" textLength="100" lengthAdjust="spacingAndGlyphs" >mut only (46 months, <tspan font-style="italic">P</tspan> &lt; .001)</text>
<line x1="358.6" y1="314.6" x2="376.2" y2="314.6" stroke="#5f6363" stroke-width="1.3"/>
<text x="379.8" y="317" font-size="7.2" fill="#333" stroke="#333" textLength="84" lengthAdjust="spacingAndGlyphs" >del only (52 months, n.s.)</text>
<line x1="358.6" y1="323.5" x2="376.2" y2="323.5" stroke="#d3c9ce" stroke-width="1.3"/>
<text x="379.8" y="325.9" font-size="7.2" fill="#333" stroke="#333" textLength="122.5" lengthAdjust="spacingAndGlyphs" >cnLOH only (number of cases too low)</text>
<line x1="358.6" y1="332.4" x2="376.2" y2="332.4" stroke="#ab1f40" stroke-width="1.3"/>
<text x="379.8" y="334.8" font-size="7.2" fill="#333" stroke="#333" textLength="94" lengthAdjust="spacingAndGlyphs" >mut + del (9 months, <tspan font-style="italic">P</tspan> &lt; .001)</text>
<line x1="358.6" y1="341.3" x2="376.2" y2="341.3" stroke="#d0928a" stroke-width="1.3"/>
<text x="379.8" y="343.7" font-size="7.2" fill="#333" stroke="#333" textLength="113.5" lengthAdjust="spacingAndGlyphs" >mut + cnLOH (13 months, <tspan font-style="italic">P</tspan> &lt; .001)</text>
<line x1="358.6" y1="350.2" x2="376.2" y2="350.2" stroke="#efb3a9" stroke-width="1.3"/>
<text x="379.8" y="352.6" font-size="7.2" fill="#333" stroke="#333" textLength="95.5" lengthAdjust="spacingAndGlyphs" >≥ 2 mut (11 months, <tspan font-style="italic">P</tspan> &lt; .001)</text>
<text x="10" y="524" font-size="15.9" font-weight="bold" fill="#111" textLength="9.9" lengthAdjust="spacingAndGlyphs" >E</text>
<rect x="81.5" y="532" width="98.8" height="38" fill="#efeff1"/>
<rect x="207" y="532" width="99.6" height="38.3" fill="#e9d2d3"/>
<rect x="333.2" y="532" width="99.3" height="38.7" fill="#eaacb0"/>
<text x="130.9" y="544.3" font-size="8.6" text-anchor="middle" fill="#333" stroke="#333" ><tspan font-style="italic">TP53</tspan> aberrations</text>
<text x="130.9" y="554.7" font-size="8.6" text-anchor="middle" fill="#333" stroke="#333" >frequent and/or</text>
<text x="130.9" y="565.1" font-size="8.6" text-anchor="middle" fill="#333" stroke="#333" textLength="77" lengthAdjust="spacingAndGlyphs" >prognostic influence</text>
<text x="257.3" y="544.3" font-size="8.6" text-anchor="middle" fill="#333" stroke="#333" ><tspan font-style="italic">TP53</tspan> frequency or</text>
<text x="257.3" y="554.7" font-size="8.6" text-anchor="middle" fill="#333" stroke="#333" textLength="79" lengthAdjust="spacingAndGlyphs" >prognostic incluence</text>
<text x="257.3" y="565.1" font-size="8.6" text-anchor="middle" fill="#333" stroke="#333" >questionable</text>
<text x="382.8" y="544.3" font-size="8.6" text-anchor="middle" fill="#333" stroke="#333" textLength="83.7" lengthAdjust="spacingAndGlyphs" ><tspan font-style="italic">TP53</tspan> aberrations very</text>
<text x="382.8" y="554.7" font-size="8.6" text-anchor="middle" fill="#333" stroke="#333" >infrequent and/or no</text>
<text x="382.8" y="565.1" font-size="8.6" text-anchor="middle" fill="#333" stroke="#333" >prognostic influence</text>
<ellipse cx="192.5" cy="641.5" rx="104" ry="60.5" fill="#f3f3f5"/>
<ellipse cx="324.5" cy="641.3" rx="115" ry="61" fill="#e9a6ab" stroke="#dc9ca2" stroke-width="0.6"/>
<clipPath id="cl"><ellipse cx="202.8" cy="642" rx="95" ry="68"/></clipPath>
<ellipse cx="324.5" cy="641.3" rx="115" ry="61" fill="#ecc8ca" clip-path="url(#cl)"/>
<text x="181.6" y="598.5" font-size="8.6" text-anchor="middle" fill="#333" stroke="#333" >AML with</text>
<text x="181.4" y="609.4" font-size="8.6" text-anchor="middle" fill="#333" stroke="#333" textLength="54.5" lengthAdjust="spacingAndGlyphs" ><tspan font-style="italic">KM2A::MLLT3</tspan></text>
<text x="181.6" y="629.4" font-size="8.6" text-anchor="middle" fill="#333" stroke="#333" >AML-MRC</text>
<text x="129.4" y="637.4" font-size="8.6" text-anchor="middle" fill="#333" stroke="#333" >t-AML*</text>
<text x="116.5" y="651.8" font-size="8.6" text-anchor="middle" fill="#333" stroke="#333" >MDS-EB-1</text>
<text x="181.6" y="650.5" font-size="8.6" text-anchor="middle" fill="#333" stroke="#333" >t-MDS</text>
<text x="130.2" y="665.3" font-size="8.6" text-anchor="middle" fill="#333" stroke="#333" >MDS-RS-MLD</text>
<text x="181.4" y="678" font-size="8.6" text-anchor="middle" fill="#333" stroke="#333" >MDS-RS-SLD</text>
<text x="181.2" y="697.5" font-size="8.6" text-anchor="middle" fill="#333" stroke="#333" >MDS-EB-2</text>
<text x="255" y="616.5" font-size="8.6" text-anchor="middle" fill="#333" stroke="#333" >AML with</text>
<text x="255.3" y="626.9" font-size="8.6" text-anchor="middle" fill="#333" stroke="#333" textLength="61" lengthAdjust="spacingAndGlyphs" ><tspan font-style="italic">GATA::MECOM</tspan></text>
<text x="235.6" y="645.1" font-size="8.6" text-anchor="middle" fill="#333" stroke="#333" >MDS-SLD</text>
<text x="268.4" y="659.6" font-size="8.6" text-anchor="middle" fill="#333" stroke="#333" >MDS-MLD</text>
<text x="258.4" y="675.8" font-size="8.6" text-anchor="middle" fill="#333" stroke="#333" >MDS 5q-</text>
<text x="325.7" y="595.3" font-size="8.6" text-anchor="middle" fill="#333" stroke="#333" >AML with</text>
<text x="325" y="605.6" font-size="8.6" text-anchor="middle" fill="#333" stroke="#333" textLength="73.3" lengthAdjust="spacingAndGlyphs" ><tspan font-style="italic">RUNX1::RUNX1T1</tspan></text>
<text x="318.8" y="621.7" font-size="8.6" text-anchor="middle" fill="#333" stroke="#333" >AML-NOS</text>
<text x="384.5" y="613.1" font-size="8.6" text-anchor="middle" fill="#333" stroke="#333" >AML with</text>
<text x="384.7" y="624.4" font-size="8.6" text-anchor="middle" fill="#333" stroke="#333" textLength="46.3" lengthAdjust="spacingAndGlyphs" ><tspan font-style="italic">PML::RARA</tspan></text>
<text x="331.5" y="635.7" font-size="8.6" text-anchor="middle" fill="#333" stroke="#333" >AML with</text>
<text x="331.8" y="646.1" font-size="8.6" text-anchor="middle" fill="#333" stroke="#333" textLength="61.6" lengthAdjust="spacingAndGlyphs" >mutated <tspan font-style="italic">RUNX1</tspan></text>
<text x="405.4" y="638.5" font-size="8.6" text-anchor="middle" fill="#333" stroke="#333" >AML with</text>
<text x="405.8" y="648.6" font-size="8.6" text-anchor="middle" fill="#333" stroke="#333" >biallelic mutation</text>
<text x="405.3" y="658.7" font-size="8.6" text-anchor="middle" fill="#333" stroke="#333" >of <tspan font-style="italic">CEBPA</tspan></text>
<text x="319.2" y="660.6" font-size="8.6" text-anchor="middle" fill="#333" stroke="#333" >AML with</text>
<text x="319.1" y="671.1" font-size="8.6" text-anchor="middle" fill="#333" stroke="#333" >mutaed <tspan font-style="italic">NPM1</tspan></text>
<text x="381.1" y="670.8" font-size="8.6" text-anchor="middle" fill="#333" stroke="#333" >AML with</text>
<text x="381.2" y="681.3" font-size="8.6" text-anchor="middle" fill="#333" stroke="#333" textLength="56.4" lengthAdjust="spacingAndGlyphs" ><tspan font-style="italic">DEK::NUP214</tspan></text>
<text x="317.5" y="684.6" font-size="8.6" text-anchor="middle" fill="#333" stroke="#333" >AML with</text>
<text x="317.3" y="694.9" font-size="8.6" text-anchor="middle" fill="#333" stroke="#333" textLength="56.7" lengthAdjust="spacingAndGlyphs" ><tspan font-style="italic">CBFB::MYH11</tspan></text>
<text x="9.9" y="730.6" font-size="15.9" font-weight="bold" fill="#111" >F</text>
<text x="202.1" y="748.6" font-size="11" text-anchor="middle" fill="#222" stroke="#222" textLength="44.1" lengthAdjust="spacingAndGlyphs" >single hit</text>
<text x="327.3" y="748.6" font-size="11" text-anchor="middle" fill="#222" stroke="#222" textLength="49.8" lengthAdjust="spacingAndGlyphs" >double hit</text>
<rect x="152.25" y="757.05" width="99.3" height="40.1" rx="3.2" fill="#dadada" stroke="#a8223d" stroke-width="1.7"/>
<rect x="277.35" y="757.05" width="99.3" height="40.1" rx="3.2" fill="#dcdcdc" stroke="#4a9c3e" stroke-width="1.7"/>
<rect x="152.25" y="806.55" width="99.3" height="39.9" rx="3.2" fill="#ffffff" stroke="#d46a66" stroke-width="1.7"/>
<rect x="277.35" y="806.55" width="99.3" height="39.9" rx="3.2" fill="#ebebeb" stroke="#92c783" stroke-width="1.7"/>
<rect x="152.25" y="856.05" width="99.3" height="39.1" rx="3.2" fill="#ffffff" stroke="#eba79b" stroke-width="1.7"/>
<rect x="277.35" y="856.05" width="99.3" height="39.1" rx="3.2" fill="#f3f3f3" stroke="#c5e2b8" stroke-width="1.7"/>
<text x="201.9" y="780.4" font-size="8.5" text-anchor="middle" fill="#333" stroke="#333" textLength="80.8" lengthAdjust="spacingAndGlyphs" >1 <tspan font-style="italic">TP53</tspan> mutation only</text>
<text x="327.3" y="775.1" font-size="8.5" text-anchor="middle" fill="#333" stroke="#333" textLength="64.4" lengthAdjust="spacingAndGlyphs" ><tspan font-style="italic">TP53</tspan> mutation +</text>
<text x="327" y="785.3" font-size="8.5" text-anchor="middle" fill="#333" stroke="#333" ><tspan font-style="italic">TP53</tspan> deletion</text>
<text x="202.1" y="824.3" font-size="8.5" text-anchor="middle" fill="#333" stroke="#333" textLength="88.1" lengthAdjust="spacingAndGlyphs" >17p/<tspan font-style="italic">TP53</tspan> deletion only</text>
<text x="202.1" y="834.7" font-size="8.5" text-anchor="middle" fill="#333" stroke="#333" textLength="86.1" lengthAdjust="spacingAndGlyphs" >without <tspan font-style="italic">TP53</tspan> mutation</text>
<text x="327" y="824.3" font-size="8.5" text-anchor="middle" fill="#333" stroke="#333" textLength="63.6" lengthAdjust="spacingAndGlyphs" ><tspan font-style="italic">TP53</tspan> mutation +</text>
<text x="327" y="834.7" font-size="8.5" text-anchor="middle" fill="#333" stroke="#333" textLength="85.2" lengthAdjust="spacingAndGlyphs" >cnLOH covering <tspan font-style="italic">TP53</tspan></text>
<text x="202.1" y="868.4" font-size="8.5" text-anchor="middle" fill="#333" stroke="#333" >cnLOH only (covering</text>
<text x="202.1" y="878.8" font-size="8.5" text-anchor="middle" fill="#333" stroke="#333" ><tspan font-style="italic">TP53</tspan>) without <tspan font-style="italic">TP53</tspan></text>
<text x="202.1" y="889.4" font-size="8.5" text-anchor="middle" fill="#333" stroke="#333" >mutation</text>
<text x="325.6" y="868.4" font-size="8.5" text-anchor="middle" fill="#333" stroke="#333" textLength="82.5" lengthAdjust="spacingAndGlyphs" >≥ 2 <tspan font-style="italic">TP53</tspan> Mutationen</text>
<text x="327" y="878.8" font-size="8.5" text-anchor="middle" fill="#333" stroke="#333" textLength="72.8" lengthAdjust="spacingAndGlyphs" >(without deletion or</text>
<text x="327" y="889.4" font-size="8.5" text-anchor="middle" fill="#333" stroke="#333" >cnLOH)</text>
<rect x="0.5" y="0.5" width="519" height="905" fill="none" stroke="#2b2b2b" stroke-width="1.2"/>
</svg>
</body></html>
